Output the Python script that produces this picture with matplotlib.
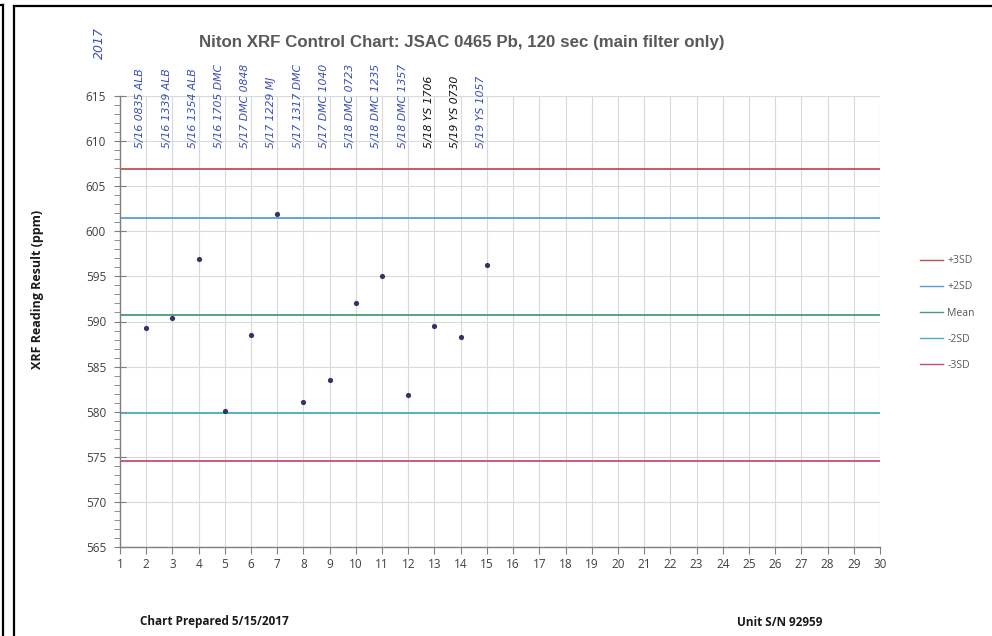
import matplotlib
matplotlib.use("Agg")
import matplotlib.pyplot as plt
from matplotlib.lines import Line2D
from matplotlib.ticker import MultipleLocator

# ---- data ----
run_no = [2, 3, 4, 5, 6, 7, 8, 9, 10, 11, 12, 13, 14, 15]
readings = [589.3, 590.4, 596.9, 580.1, 588.5, 601.9, 581.1, 583.5, 592.1, 595.0, 581.9, 589.5, 588.3, 596.3]
limit_names = ["+3SD", "+2SD", "Mean", "-2SD", "-3SD"]
limit_values = [606.9, 601.5, 590.7, 579.9, 574.5]
limit_colors = ["#c0504d", "#5b9bd5", "#4a9a7a", "#4bacc6", "#c0506a"]
notes = ["5/16 0835 ALB", "5/16 1339 ALB", "5/16 1354 ALB", "5/16 1705 DMC",
         "5/17 DMC 0848", "5/17 1229 MJ", "5/17 1317 DMC", "5/17 DMC 1040",
         "5/18 DMC 0723", "5/18 DMC 1235", "5/18 DMC 1357", "5/18 YS 1706",
         "5/19 YS 0730", "5/19 YS 1057"]
note_colors = ["#3a4fb0"] * 11 + ["#111111", "#111111", "#3a4fb0"]
x_ticks = list(range(1, 31))
y_ticks = list(range(565, 616, 5))

W, H = 992, 636
fig = plt.figure(figsize=(W / 100, H / 100), dpi=100)
fig.patch.set_facecolor("white")
ax = fig.add_axes([120 / W, 1 - 547 / H, (880 - 120) / W, (547 - 96) / H])

ax.set_xlim(1, 30)
ax.set_ylim(565, 615)
ax.set_xticks(x_ticks)
ax.set_yticks(y_ticks)
ax.yaxis.set_minor_locator(MultipleLocator(1))
ax.grid(True, which="major", color="#d9d9d9", linewidth=0.8)
ax.set_axisbelow(True)
for s in ["top", "right"]:
    ax.spines[s].set_visible(False)
for s in ["left", "bottom"]:
    ax.spines[s].set_color("#7f7f7f")
    ax.spines[s].set_linewidth(1.0)
ax.tick_params(axis="y", which="major", direction="inout", length=8, color="#7f7f7f",
               labelsize=8.5, labelcolor="#404040", pad=6)
ax.tick_params(axis="y", which="minor", direction="out", length=4, color="#7f7f7f")
ax.tick_params(axis="x", which="major", direction="out", length=5, color="#7f7f7f",
               labelsize=8.5, labelcolor="#404040", pad=3)
for lbl in ax.get_xticklabels() + ax.get_yticklabels():
    lbl.set_family("Open Sans")

handles = []
for name, val, col in zip(limit_names, limit_values, limit_colors):
    ax.plot([1, 30], [val, val], color=col, linewidth=1.3, zorder=2)
    handles.append(Line2D([0], [0], color=col, linewidth=1.0, label=name))

ax.scatter(run_no, readings, s=14, color="#2e3568", zorder=4, linewidths=0)

leg = fig.legend(handles=handles, loc="center left", bbox_to_anchor=(911 / W, 1 - 313 / H),
                 frameon=False, handlelength=2.2, handletextpad=0.4,
                 labelspacing=1.45, prop={"family": "Open Sans", "size": 7.5})
for t in leg.get_texts():
    t.set_color("#595959")

ax.set_ylabel("XRF Reading Result (ppm)", fontsize=9, fontweight="bold",
              family="Open Sans", color="#1a1a1a")
ax.yaxis.set_label_coords(-(120 - 44) / (880 - 120), 0.57)

fig.text(462 / W, 1 - 42 / H, "Niton XRF Control Chart: JSAC 0465 Pb, 120 sec (main filter only)",
         ha="center", va="center", fontsize=12.2, color="#595959",
         family="Liberation Sans", fontweight="bold")

# handwritten notes
for xv, txt, col in zip(run_no, notes, note_colors):
    ax.text(xv - 0.22, 609.2, txt, rotation=90, ha="center", va="bottom",
            fontsize=7.8, style="italic", color=col, family="DejaVu Sans",
            clip_on=False, zorder=5)
fig.text(99 / W, 1 - 43 / H, "2017", rotation=90, ha="center", va="center",
         fontsize=9, style="italic", color="#3a4fb0", family="DejaVu Sans")

fig.text(140 / W, 1 - 622 / H, "Chart Prepared 5/15/2017", ha="left", va="center",
         fontsize=8.5, fontweight="bold", family="Open Sans", color="#1a1a1a")
fig.text(737 / W, 1 - 622 / H, "Unit S/N 92959", ha="left", va="center",
         fontsize=8.5, fontweight="bold", family="Open Sans", color="#1a1a1a")

# scanned page borders
def fline(x0, y0, x1, y1):
    fig.add_artist(Line2D([x0 / W, x1 / W], [1 - y0 / H, 1 - y1 / H],
                          color="black", linewidth=1.6, transform=fig.transFigure))

fline(3, 5, 3, H)
fline(0, 5, 3, 5)
fline(14, 6, 14, H)
fline(14, 6, W, 6)

fig.savefig("out.png", dpi=100)
